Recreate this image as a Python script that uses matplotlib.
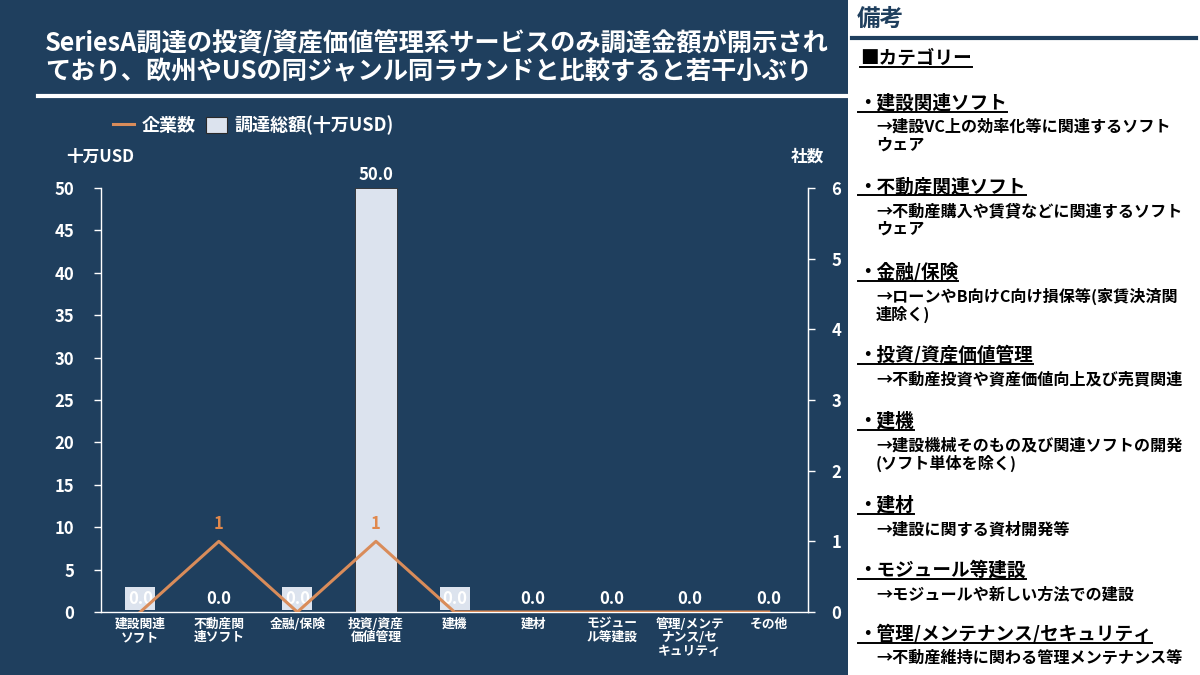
import matplotlib.pyplot as plt
from matplotlib.lines import Line2D
from matplotlib.patches import Patch, Rectangle

plt.rcParams['font.family'] = ['Noto Sans CJK JP', 'DejaVu Sans']

# data
categories = ['建設関連\nソフト', '不動産関\n連ソフト', '金融/保険', '投資/資産\n価値管理', '建機',
              '建材', 'モジュー\nル等建設', '管理/メンテ\nナンス/セ\nキュリティ', 'その他']
amount = [0.0, 0.0, 0.0, 50.0, 0.0, 0.0, 0.0, 0.0, 0.0]
companies = [0, 1, 0, 1, 0, 0, 0, 0, 0]
boxed_labels = [True, False, True, False, True, False, False, False, False]

title = 'SeriesA調達の投資/資産価値管理系サービスのみ調達金額が開示され\nており、欧州やUSの同ジャンル同ラウンドと比較すると若干小ぶり'

notes = [
    ('・建設関連ソフト', ['→建設VC上の効率化等に関連するソフト', 'ウェア']),
    ('・不動産関連ソフト', ['→不動産購入や賃貸などに関連するソフト', 'ウェア']),
    ('・金融/保険', ['→ローンやB向けC向け損保等(家賃決済関', '連除く)']),
    ('・投資/資産価値管理', ['→不動産投資や資産価値向上及び売買関連']),
    ('・建機', ['→建設機械そのもの及び関連ソフトの開発', '(ソフト単体を除く)']),
    ('・建材', ['→建設に関する資材開発等']),
    ('・モジュール等建設', ['→モジュールや新しい方法での建設']),
    ('・管理/メンテナンス/セキュリティ', ['→不動産維持に関わる管理メンテナンス等']),
]
note_y = [103, 187, 272, 355, 421, 505, 570, 634]

navy = '#1f3f5e'
bar_color = '#dce3ee'
line_color = '#d98c5a'
W, H = 1200, 675

fig = plt.figure(figsize=(12, 6.75), dpi=100, facecolor=navy)

# right white panel
fig.patches.append(Rectangle((848 / W, 0), 1 - 848 / W, 1, transform=fig.transFigure,
                             facecolor='white', edgecolor='none', zorder=0))

# title
fig.text(45 / W, 1 - 58 / H, title, color='white', fontsize=18.2, fontweight='bold',
         va='center', ha='left', linespacing=1.08)
fig.add_artist(Line2D([38 / W, 848 / W], [1 - 96 / H, 1 - 96 / H], color='white', lw=3,
                      transform=fig.transFigure))

ax = fig.add_axes([101 / W, 1 - 612 / H, (808 - 101) / W, (612 - 188) / H])
ax.set_facecolor(navy)
x = list(range(len(categories)))
bars = ax.bar(x, amount, width=0.54, color=bar_color, edgecolor='#2a2a2a', linewidth=0.6, zorder=2)
ax.set_xlim(-0.5, len(categories) - 0.5)
ax.set_ylim(0, 50)
ax.set_yticks(range(0, 51, 5))
ax.set_xticks(x)
ax.set_xticklabels(categories, fontsize=9.2, fontweight='bold', color='white', linespacing=1.05)
ax.tick_params(axis='x', length=0, pad=4)
ax.tick_params(axis='y', colors='white', labelsize=12, length=5, width=1, pad=14)
for lab in ax.get_yticklabels():
    lab.set_fontweight('bold')
for s in ['top']:
    ax.spines[s].set_visible(False)
for s in ['left', 'right', 'bottom']:
    ax.spines[s].set_color('white')
    ax.spines[s].set_linewidth(1)

for xi, v, boxed in zip(x, amount, boxed_labels):
    kw = {}
    if boxed:
        kw['bbox'] = dict(boxstyle='square,pad=0.15', facecolor=bar_color, edgecolor='none')
    ax.text(xi, v + 0.5, f'{v:.1f}', ha='center', va='bottom', color='white', fontsize=12,
            fontweight='bold', zorder=4, **kw)

ax2 = ax.twinx()
ax2.set_ylim(0, 6)
ax2.set_yticks(range(0, 7))
ax2.tick_params(axis='y', colors='white', labelsize=12, length=5, width=1, pad=12)
for lab in ax2.get_yticklabels():
    lab.set_fontweight('bold')
for s in ['top', 'left', 'bottom']:
    ax2.spines[s].set_visible(False)
ax2.spines['right'].set_color('white')
ax2.plot(x, companies, color=line_color, lw=2.2, zorder=3)
for xi, c in zip(x, companies):
    if c > 0:
        ax2.text(xi, c + 0.12, str(c), ha='center', va='bottom', color='#e0884c',
                 fontsize=12, fontweight='bold')

# axis titles
fig.text(66 / W, 1 - 157 / H, '十万USD', color='white', fontsize=12, fontweight='bold',
         va='center', ha='left')
fig.text(807 / W, 1 - 157 / H, '社数', color='white', fontsize=12, fontweight='bold',
         va='center', ha='center')

# legend
handles = [Line2D([0], [0], color=line_color, lw=2.2),
           Patch(facecolor=bar_color, edgecolor='#2a2a2a', linewidth=0.8)]
leg = fig.legend(handles, ['企業数', '調達総額(十万USD)'], loc='center left',
                 bbox_to_anchor=(97 / W, 1 - 125 / H), ncol=2, frameon=False,
                 handlelength=1.15, handleheight=1.0, handletextpad=0.4, columnspacing=0.6,
                 fontsize=13)
for t in leg.get_texts():
    t.set_color('white')
    t.set_fontweight('bold')

# right panel notes
fig.text(857 / W, 1 - 19 / H, '備考', color=navy, fontsize=17, fontweight='bold',
         va='center', ha='left')
fig.add_artist(Line2D([852 / W, 1196 / W], [1 - 38 / H, 1 - 38 / H], color=navy, lw=3,
                      transform=fig.transFigure))

headers = []
headers.append(fig.text(860 / W, 1 - 58 / H, '■カテゴリー', color='black', fontsize=13.4,
                        fontweight='bold', va='center', ha='left'))
for (head, lines), y in zip(notes, note_y):
    headers.append(fig.text(858 / W, 1 - y / H, head, color='black', fontsize=13.4,
                            fontweight='bold', va='center', ha='left'))
    for i, ln in enumerate(lines):
        fig.text(876 / W, 1 - (y + 24 + 18 * i) / H, ln, color='black', fontsize=11.6,
                 fontweight='bold', va='center', ha='left')

fig.canvas.draw()
r = fig.canvas.get_renderer()
for t in headers:
    bb = t.get_window_extent(r)
    yy = (bb.y0 + 1) / fig.bbox.height
    fig.add_artist(Line2D([bb.x0 / fig.bbox.width, bb.x1 / fig.bbox.width], [yy, yy],
                          color='black', lw=1.4, transform=fig.transFigure))

fig.savefig('out.png', dpi=100, facecolor=navy)
